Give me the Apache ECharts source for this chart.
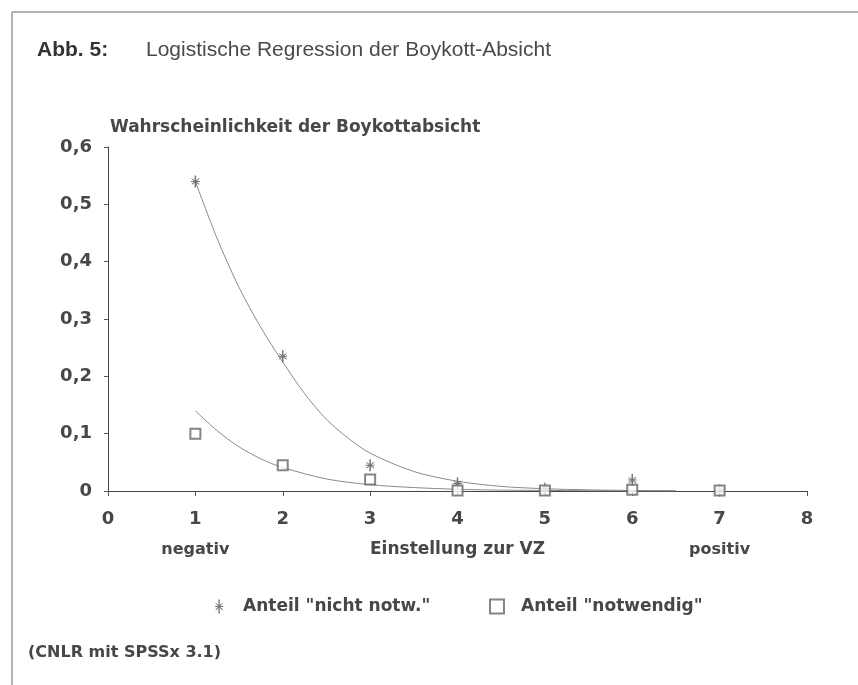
<!DOCTYPE html>
<html>
<head>
<meta charset="utf-8">
<script src="https://cdn.jsdelivr.net/npm/echarts@6/dist/echarts.min.js"></script>
<style>
  html, body { margin: 0; padding: 0; background: #fff; }
  #chart { width: 858px; height: 685px; }
</style>
</head>
<body>
<div id="chart"></div>
<script>
// beobachtete Anteile
var xWerte = [1, 2, 3, 4, 5, 6, 7]
var nichtNotw = [0.54, 0.235, 0.045, 0.013, 0.004, 0.019, 0.001]
var notwendig = [0.10, 0.045, 0.02, 0.001, 0.001, 0.002, 0.001]

// angepasste Kurven
var kurve1X = [1, 1.25, 1.5, 1.75, 2, 2.25, 2.5, 2.75, 3, 3.5, 4, 4.5, 5, 5.5, 6, 6.5]
var kurve1Y = [0.54, 0.44, 0.355, 0.285, 0.225, 0.17, 0.125, 0.092, 0.066, 0.034, 0.017, 0.008, 0.004, 0.002, 0.001, 0.0005]
var kurve2X = [1, 1.25, 1.5, 1.75, 2, 2.5, 3, 3.5, 4, 4.5, 5, 5.5, 6, 6.5]
var kurve2Y = [0.14, 0.105, 0.077, 0.056, 0.041, 0.021, 0.011, 0.006, 0.003, 0.0015, 0.001, 0.0005, 0.0002, 0.0001]

var xTicks = [0, 1, 2, 3, 4, 5, 6, 7, 8]
var yTicks = [0, 0.1, 0.2, 0.3, 0.4, 0.5, 0.6]

var serieName1 = 'Anteil "nicht notw."'
var serieName2 = 'Anteil "notwendig"'

function paare (xs, ys) {
  return xs.map(function (x, i) { return [x, ys[i]] })
}

var sternPfad = 'path://M5.4,0 L6.6,0 L6.6,12 L5.4,12 Z M2.5,5.5 L9.5,5.5 L9.5,6.5 L2.5,6.5 Z M3.4,2.9 L9.3,8.6 L8.6,9.3 L2.9,3.4 Z M8.6,2.9 L9.3,3.4 L3.4,9.3 L2.9,8.6 Z'
var schrift = 'DejaVu Sans'
var textFarbe = '#474747'
var legendText = { fontFamily: schrift, fontSize: 17, fontWeight: 'bold', color: textFarbe, padding: [0, 0, 0, 12] }

var myChart = echarts.init(document.getElementById('chart'))
myChart.setOption({
  backgroundColor: '#fff',
  animation: false,
  grid: {
    left: 108,
    right: 51,
    top: 147,
    bottom: 194
  },
  legend: [
    {
      left: 210,
      top: 593,
      itemWidth: 14,
      itemHeight: 14,
      data: [serieName1],
      textStyle: legendText
    },
    {
      left: 484,
      top: 593,
      itemWidth: 14,
      itemHeight: 14,
      data: [serieName2],
      textStyle: legendText
    }
  ],
  xAxis: {
    type: 'value',
    min: xTicks[0],
    max: xTicks[xTicks.length - 1],
    interval: 1,
    name: 'Einstellung zur VZ',
    nameLocation: 'middle',
    nameGap: 50,
    nameTextStyle: { fontFamily: schrift, fontSize: 17, fontWeight: 'bold', color: textFarbe },
    axisLine: { lineStyle: { color: '#444', width: 1 } },
    axisTick: { show: true, length: 5, lineStyle: { color: '#555' } },
    axisLabel: { margin: 19, fontFamily: schrift, fontSize: 18, fontWeight: 'bold', color: textFarbe },
    splitLine: { show: false }
  },
  yAxis: {
    type: 'value',
    min: yTicks[0],
    max: yTicks[yTicks.length - 1],
    interval: 0.1,
    name: 'Wahrscheinlichkeit der Boykottabsicht',
    nameLocation: 'end',
    nameGap: 11,
    nameTextStyle: { fontFamily: schrift, fontSize: 17, fontWeight: 'bold', color: textFarbe, align: 'left', padding: [0, 0, 0, 2] },
    axisLine: { show: true, lineStyle: { color: '#444', width: 1 } },
    axisTick: { show: true, length: 4, lineStyle: { color: '#555' } },
    axisLabel: {
      margin: 16,
      fontFamily: schrift,
      fontSize: 18,
      fontWeight: 'bold',
      color: textFarbe,
      formatter: function (v) {
        return v === 0 ? '0' : v.toFixed(1).replace('.', ',')
      }
    },
    splitLine: { show: false }
  },
  series: [
    {
      name: 'kurve1',
      type: 'line',
      data: paare(kurve1X, kurve1Y),
      smooth: 0.3,
      showSymbol: false,
      lineStyle: { color: '#8a8a8a', width: 1 },
      z: 2
    },
    {
      name: 'kurve2',
      type: 'line',
      data: paare(kurve2X, kurve2Y),
      smooth: 0.3,
      showSymbol: false,
      lineStyle: { color: '#8a8a8a', width: 1 },
      z: 2
    },
    {
      name: serieName1,
      type: 'scatter',
      data: paare(xWerte, nichtNotw),
      symbol: sternPfad,
      symbolSize: [9, 12],
      itemStyle: { color: '#555' },
      z: 3
    },
    {
      name: serieName2,
      type: 'scatter',
      data: paare(xWerte, notwendig),
      symbol: 'emptyRect',
      symbolSize: 10,
      itemStyle: { color: '#666', borderWidth: 1 },
      z: 3
    }
  ]
})

// Texte ausserhalb der Achsen
var pNeg = myChart.convertToPixel({ gridIndex: 0 }, [1, 0])
var pPos = myChart.convertToPixel({ gridIndex: 0 }, [7, 0])
myChart.setOption({
  graphic: [
    // Rahmen
    { type: 'line', shape: { x1: 12, y1: 12, x2: 858, y2: 12 }, style: { stroke: '#9a9a9a', lineWidth: 1.5 } },
    { type: 'line', shape: { x1: 12, y1: 12, x2: 12, y2: 685 }, style: { stroke: '#9a9a9a', lineWidth: 1.5 } },
    {
      type: 'text', left: 37, top: 40,
      style: { text: 'Abb. 5:', font: 'bold 21px "Liberation Sans"', fill: '#333' }
    },
    {
      type: 'text', left: 146, top: 40,
      style: { text: 'Logistische Regression der Boykott-Absicht', font: '21px "Liberation Sans"', fill: '#4a4a4a' }
    },
    {
      type: 'text', x: pNeg[0], y: 550,
      style: { text: 'negativ', font: 'bold 16px "DejaVu Sans"', fill: textFarbe, align: 'center', verticalAlign: 'middle' }
    },
    {
      type: 'text', x: pPos[0], y: 550,
      style: { text: 'positiv', font: 'bold 16px "DejaVu Sans"', fill: textFarbe, align: 'center', verticalAlign: 'middle' }
    },
    {
      type: 'text', left: 28, top: 645,
      style: { text: '(CNLR mit SPSSx 3.1)', font: 'bold 16px "DejaVu Sans"', fill: textFarbe }
    }
  ]
})
</script>
</body>
</html>
